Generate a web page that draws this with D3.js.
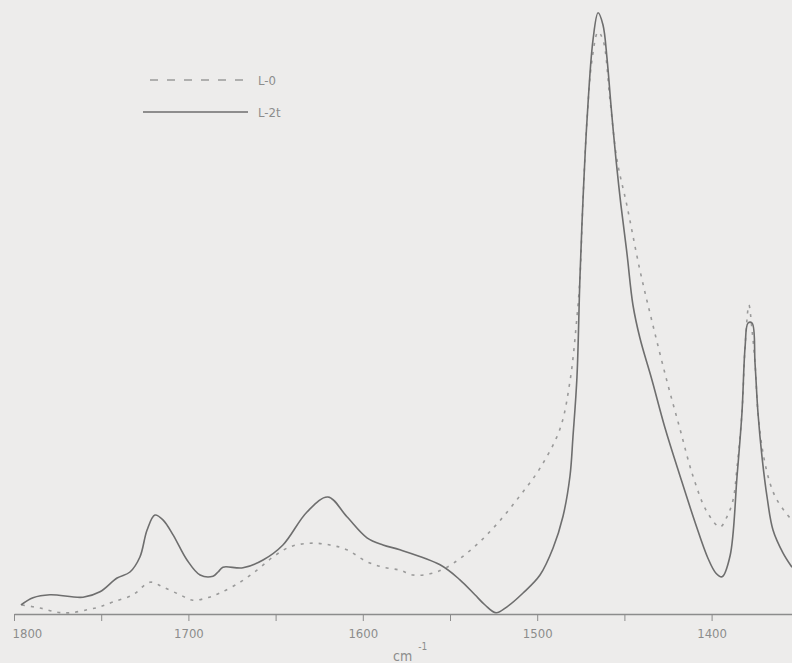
<!DOCTYPE html>
<html>
<head>
<meta charset="utf-8">
<script src="https://cdn.jsdelivr.net/npm/d3@7"></script>
<style>
  html, body { margin: 0; padding: 0; background: #edeceb; }
  svg { display: block; }
  text { font-family: "DejaVu Sans Condensed", "DejaVu Sans", sans-serif; font-stretch: condensed; fill: #8c8c8c; }
</style>
</head>
<body>
<div id="chart"></div>
<script>
// L-2t (solid) spectrum: wavenumber (cm-1) and absorbance (arbitrary units)
const l2tWave = [1796.0, 1789.1, 1779.4, 1760.4, 1750.7, 1740.9, 1733.5, 1727.8, 1723.7, 1719.2,
    1714.6, 1708.8, 1700.8, 1693.3, 1685.9, 1683.0, 1680.2, 1668.7, 1657.2, 1645.8,
    1632.0, 1620.0, 1609.1, 1597.6, 1588.4, 1578.7, 1555.7, 1544.3, 1535.7, 1529.9,
    1523.6, 1517.3, 1508.1, 1498.4, 1490.9, 1485.2, 1481.2, 1479.5, 1477.2, 1475.5,
    1473.7, 1471.4, 1468.0, 1465.1, 1462.3, 1460.0, 1457.7, 1454.8, 1452.0, 1448.5,
    1445.1, 1441.1, 1434.2, 1426.7, 1418.1, 1409.5, 1402.1, 1397.5, 1394.0, 1389.4,
    1385.4, 1382.6, 1380.8, 1379.1, 1376.8, 1375.1, 1373.4, 1371.1, 1368.2, 1364.8,
    1359.1, 1353.9];
const l2tAbs = [1.5, 2.7, 3.2, 2.8, 3.7, 6.0, 7.0, 9.5, 14.0, 16.5,
    15.7, 13.2, 9.0, 6.5, 6.3, 7.0, 7.8, 7.7, 9.0, 11.5,
    17.0, 19.5, 16.2, 12.7, 11.5, 10.7, 8.2, 5.7, 3.2, 1.5,
    0.2, 1.2, 3.5, 6.5, 11.0, 16.3, 23.0, 29.5, 39.5, 56.0,
    69.3, 82.5, 95.7, 100.2, 98.2, 92.7, 84.8, 75.7, 68.2, 60.0,
    51.5, 46.0, 39.0, 31.0, 23.0, 15.3, 9.3, 6.8, 6.2, 9.7,
    23.0, 33.5, 44.5, 48.5, 48.5, 41.8, 33.5, 26.2, 19.5, 14.0,
    10.2, 7.8];

// L-0 (dashed) spectrum
const l0Wave = [1795.4, 1785.1, 1775.3, 1767.9, 1758.1, 1750.7, 1743.2, 1731.8, 1722.0, 1714.6,
    1704.8, 1697.4, 1689.3, 1681.9, 1670.4, 1660.7, 1651.5, 1641.7, 1630.3, 1618.8,
    1609.1, 1597.6, 1588.4, 1578.7, 1571.2, 1561.5, 1551.7, 1536.8, 1523.1, 1509.9,
    1498.4, 1487.0, 1481.2, 1477.2, 1475.5, 1473.7, 1471.4, 1468.6, 1465.1, 1462.3,
    1458.3, 1454.3, 1448.5, 1441.1, 1433.7, 1425.6, 1418.1, 1410.7, 1402.6, 1395.2,
    1391.2, 1387.7, 1385.4, 1382.6, 1380.8, 1378.6, 1376.8, 1375.1, 1373.4, 1370.5,
    1366.5, 1362.5, 1355.0, 1353.9];
const l0Abs = [1.5, 1.0, 0.3, 0.2, 0.7, 1.2, 2.0, 3.2, 5.3, 4.5,
    3.2, 2.3, 2.7, 3.5, 5.3, 7.3, 9.5, 11.2, 11.8, 11.5,
    10.7, 8.7, 7.8, 7.3, 6.5, 6.7, 7.8, 11.0, 15.0, 19.7,
    24.3, 30.8, 38.8, 49.5, 56.0, 69.3, 82.5, 92.3, 97.0, 95.7,
    85.8, 75.8, 68.0, 57.3, 48.2, 38.8, 30.8, 23.0, 17.0, 14.5,
    16.2, 19.0, 24.5, 33.5, 44.5, 51.5, 47.3, 41.8, 33.5, 26.8,
    21.8, 19.0, 16.0, 15.7];

const xTicks = [1800, 1750, 1700, 1650, 1600, 1550, 1500, 1450, 1400];
const xLabels = [1800, 1700, 1600, 1500, 1400];
const seriesNames = ["L-0", "L-2t"];

const width = 792, height = 663;

const svg = d3.select("#chart").append("svg")
    .attr("width", width)
    .attr("height", height);

const x = d3.scaleLinear().domain([1800, 1353.9]).range([14, 792]);
const y = d3.scaleLinear().domain([0, 100]).range([614, 14]);

// axis
const axis = d3.axisBottom(x)
    .tickValues(xTicks)
    .tickSize(7)
    .tickSizeOuter(0)
    .tickPadding(8)
    .tickFormat(d => xLabels.includes(d) ? d : "");

const gAxis = svg.append("g")
    .attr("transform", `translate(0,${y(0)})`)
    .call(axis);

gAxis.select(".domain").attr("stroke", "#8c8c8c").attr("stroke-width", 1.3);
gAxis.selectAll(".tick line").attr("stroke", "#8c8c8c").attr("stroke-width", 1);
gAxis.selectAll(".tick text")
    .attr("font-size", 13)
    .attr("fill", "#8c8c8c")
    .style("font-family", "'DejaVu Sans Condensed', 'DejaVu Sans', sans-serif");
// first label sits right of its tick, as in the original
gAxis.selectAll(".tick text").filter(d => d === 1800).attr("text-anchor", "start").attr("x", -2);

// unit label
const unit = svg.append("text")
    .attr("x", 393)
    .attr("y", 661)
    .attr("font-size", 14);
unit.append("tspan").text("cm");
unit.append("tspan").attr("dx", 6).attr("dy", -11).attr("font-size", 10).text("-1");

// curves
const line = d3.line()
    .x(d => x(d[0]))
    .y(d => y(d[1]))
    .curve(d3.curveCatmullRom.alpha(0.5));

const l0Data = l0Wave.map((w, i) => [w, l0Abs[i]]);
const l2tData = l2tWave.map((w, i) => [w, l2tAbs[i]]);

svg.append("path")
    .datum(l0Data)
    .attr("fill", "none")
    .attr("stroke", "#9a9a9a")
    .attr("stroke-width", 1.6)
    .attr("stroke-dasharray", "3,6")
    .attr("d", line);

svg.append("path")
    .datum(l2tData)
    .attr("fill", "none")
    .attr("stroke", "#6e6e6e")
    .attr("stroke-width", 1.6)
    .attr("d", line);

// legend
const legend = svg.append("g");
legend.append("line")
    .attr("x1", 150).attr("x2", 245).attr("y1", 80).attr("y2", 80)
    .attr("stroke", "#9a9a9a").attr("stroke-width", 1.6).attr("stroke-dasharray", "8,9");
legend.append("line")
    .attr("x1", 143).attr("x2", 248).attr("y1", 112).attr("y2", 112)
    .attr("stroke", "#6e6e6e").attr("stroke-width", 1.6);
legend.selectAll(".legend-label")
    .data(seriesNames)
    .enter().append("text")
    .attr("class", "legend-label")
    .attr("x", 258)
    .attr("y", (d, i) => 85 + i * 32)
    .attr("font-size", 13)
    .text(d => d);
</script>
</body>
</html>
